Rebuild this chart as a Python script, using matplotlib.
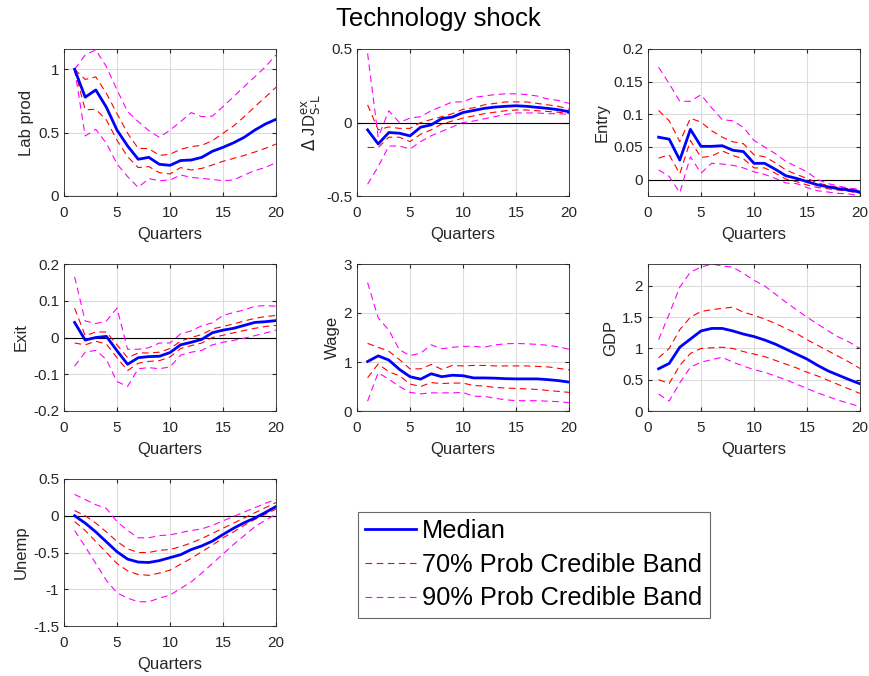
import numpy as np
import matplotlib
matplotlib.use('Agg')
import matplotlib.pyplot as plt
from matplotlib.ticker import FuncFormatter, FixedLocator

plt.rcParams['font.family'] = ['Liberation Sans', 'DejaVu Sans']
plt.rcParams['axes.unicode_minus'] = False

quarters = np.arange(1, 21)

# median, 70% band (upper/lower), 90% band (upper/lower)
labprod_med = [1.0, 0.78, 0.837, 0.70, 0.52, 0.395, 0.29, 0.305, 0.25, 0.242,
               0.28, 0.284, 0.305, 0.353, 0.384, 0.42, 0.463, 0.52, 0.568, 0.605]
labprod_70u = [1.0, 0.92, 0.94, 0.81, 0.65, 0.495, 0.376, 0.374, 0.32, 0.33,
               0.368, 0.39, 0.40, 0.437, 0.495, 0.553, 0.626, 0.705, 0.78, 0.858]
labprod_70l = [1.0, 0.68, 0.684, 0.60, 0.44, 0.31, 0.224, 0.232, 0.184, 0.174,
               0.224, 0.205, 0.218, 0.245, 0.274, 0.297, 0.32, 0.347, 0.376, 0.41]
labprod_90u = [1.0, 1.113, 1.153, 1.02, 0.837, 0.666, 0.587, 0.516, 0.463, 0.52,
               0.587, 0.658, 0.626, 0.63, 0.705, 0.784, 0.863, 0.94, 1.02, 1.113]
labprod_90l = [1.0, 0.474, 0.526, 0.416, 0.253, 0.153, 0.068, 0.137, 0.121, 0.126,
               0.166, 0.147, 0.139, 0.13, 0.121, 0.126, 0.166, 0.2, 0.226, 0.263]

jd_med = [-0.05, -0.146, -0.068, -0.073, -0.091, -0.032, -0.016, 0.027, 0.037, 0.068,
          0.082, 0.096, 0.105, 0.11, 0.114, 0.11, 0.103, 0.096, 0.087, 0.073]
jd_70u = [0.12, -0.05, -0.03, -0.04, -0.04, 0.0, 0.02, 0.04, 0.06, 0.09,
          0.10, 0.12, 0.13, 0.14, 0.14, 0.14, 0.13, 0.12, 0.11, 0.09]
jd_70l = [-0.17, -0.17, -0.10, -0.10, -0.13, -0.08, -0.05, -0.01, 0.01, 0.03,
          0.045, 0.06, 0.07, 0.08, 0.085, 0.085, 0.08, 0.075, 0.07, 0.06]
jd_90u = [0.47, -0.10, 0.08, 0.0, 0.03, 0.04, 0.08, 0.11, 0.14, 0.14,
          0.17, 0.18, 0.19, 0.195, 0.195, 0.19, 0.18, 0.16, 0.15, 0.13]
jd_90l = [-0.42, -0.30, -0.16, -0.16, -0.18, -0.13, -0.09, -0.06, -0.03, 0.0,
          0.01, 0.025, 0.04, 0.055, 0.065, 0.065, 0.065, 0.06, 0.06, 0.055]

entry_med = [0.065, 0.062, 0.030, 0.077, 0.051, 0.051, 0.052, 0.045, 0.043, 0.025,
             0.025, 0.016, 0.006, 0.002, -0.003, -0.008, -0.011, -0.014, -0.016, -0.019]
entry_70u = [0.106, 0.09, 0.058, 0.094, 0.088, 0.075, 0.065, 0.058, 0.055, 0.038,
             0.035, 0.026, 0.015, 0.008, 0.002, -0.005, -0.009, -0.012, -0.014, -0.017]
entry_70l = [0.033, 0.038, 0.009, 0.06, 0.034, 0.036, 0.044, 0.037, 0.032, 0.018,
             0.018, 0.01, 0.001, -0.003, -0.008, -0.012, -0.014, -0.016, -0.018, -0.021]
entry_90u = [0.172, 0.147, 0.12, 0.12, 0.13, 0.11, 0.092, 0.09, 0.08, 0.06,
             0.05, 0.04, 0.028, 0.02, 0.012, 0.0, -0.006, -0.01, -0.013, -0.015]
entry_90l = [0.015, 0.005, -0.02, 0.035, 0.01, 0.025, 0.024, 0.022, 0.018, 0.012,
             0.008, 0.002, -0.005, -0.006, -0.012, -0.017, -0.019, -0.021, -0.022, -0.025]

exit_med = [0.041, -0.007, 0.0, 0.003, -0.036, -0.073, -0.055, -0.052, -0.051, -0.041,
            -0.02, -0.013, -0.005, 0.013, 0.02, 0.025, 0.033, 0.041, 0.043, 0.046]
exit_70u = [0.08, 0.005, 0.015, 0.015, -0.02, -0.055, -0.042, -0.042, -0.04, -0.03,
            -0.01, 0.0, 0.008, 0.023, 0.03, 0.037, 0.045, 0.052, 0.057, 0.06]
exit_70l = [-0.015, -0.02, -0.01, -0.018, -0.055, -0.09, -0.07, -0.065, -0.063, -0.053,
            -0.03, -0.022, -0.015, 0.0, 0.006, 0.013, 0.019, 0.025, 0.03, 0.033]
exit_90u = [0.165, 0.045, 0.038, 0.045, 0.08, -0.032, -0.032, -0.028, -0.015, -0.015,
            0.01, 0.018, 0.032, 0.04, 0.06, 0.068, 0.075, 0.085, 0.087, 0.085]
exit_90l = [-0.078, -0.04, -0.035, -0.06, -0.12, -0.133, -0.085, -0.082, -0.085, -0.08,
            -0.048, -0.04, -0.035, -0.02, -0.013, -0.008, -0.002, 0.005, 0.012, 0.02]

wage_med = [1.01, 1.125, 1.04, 0.85, 0.70, 0.65, 0.76, 0.70, 0.73, 0.72,
            0.675, 0.675, 0.67, 0.66, 0.655, 0.655, 0.655, 0.64, 0.62, 0.59]
wage_70u = [1.38, 1.3, 1.22, 1.05, 0.86, 0.86, 0.95, 0.85, 0.93, 0.92,
            0.93, 0.93, 0.92, 0.92, 0.92, 0.92, 0.91, 0.9, 0.87, 0.84]
wage_70l = [0.68, 0.96, 0.8, 0.72, 0.55, 0.5, 0.58, 0.56, 0.57, 0.57,
            0.52, 0.51, 0.48, 0.47, 0.46, 0.45, 0.44, 0.42, 0.4, 0.38]
wage_90u = [2.62, 1.9, 1.65, 1.25, 1.13, 1.18, 1.35, 1.27, 1.3, 1.32,
            1.32, 1.3, 1.35, 1.37, 1.38, 1.37, 1.36, 1.34, 1.31, 1.26]
wage_90l = [0.2, 0.78, 0.65, 0.5, 0.38, 0.35, 0.37, 0.37, 0.37, 0.38,
            0.3, 0.3, 0.26, 0.23, 0.21, 0.21, 0.21, 0.2, 0.19, 0.17]

gdp_med = [0.675, 0.76, 1.02, 1.15, 1.28, 1.32, 1.32, 1.28, 1.23, 1.19,
           1.135, 1.07, 0.99, 0.91, 0.83, 0.73, 0.64, 0.57, 0.5, 0.435]
gdp_70u = [0.85, 1.0, 1.3, 1.5, 1.59, 1.62, 1.64, 1.66, 1.58, 1.53,
           1.47, 1.4, 1.32, 1.24, 1.14, 1.05, 0.96, 0.87, 0.78, 0.68]
gdp_70l = [0.5, 0.44, 0.73, 0.92, 1.0, 1.01, 1.02, 1.0, 0.95, 0.91,
           0.87, 0.81, 0.75, 0.69, 0.62, 0.56, 0.49, 0.42, 0.35, 0.28]
gdp_90u = [1.14, 1.55, 1.98, 2.22, 2.3, 2.35, 2.32, 2.3, 2.2, 2.09,
           2.0, 1.87, 1.74, 1.62, 1.5, 1.39, 1.28, 1.18, 1.1, 1.0]
gdp_90l = [0.27, 0.16, 0.45, 0.7, 0.78, 0.82, 0.86, 0.78, 0.72, 0.66,
           0.62, 0.56, 0.5, 0.43, 0.36, 0.29, 0.23, 0.17, 0.12, 0.07]

unemp_med = [0.0, -0.1, -0.22, -0.355, -0.49, -0.59, -0.63, -0.636, -0.61, -0.57,
             -0.53, -0.46, -0.41, -0.345, -0.255, -0.17, -0.095, -0.03, 0.045, 0.125]
unemp_70u = [0.07, 0.0, -0.1, -0.22, -0.35, -0.45, -0.5, -0.5, -0.47, -0.46,
             -0.42, -0.37, -0.31, -0.24, -0.17, -0.1, -0.03, 0.04, 0.11, 0.18]
unemp_70l = [-0.08, -0.2, -0.35, -0.5, -0.65, -0.75, -0.8, -0.81, -0.78, -0.74,
             -0.66, -0.58, -0.49, -0.4, -0.3, -0.22, -0.13, -0.05, 0.02, 0.09]
unemp_90u = [0.29, 0.22, 0.15, 0.1, -0.08, -0.2, -0.3, -0.3, -0.27, -0.26,
             -0.23, -0.2, -0.18, -0.13, -0.07, -0.01, 0.05, 0.11, 0.17, 0.22]
unemp_90l = [-0.2, -0.42, -0.65, -0.88, -1.05, -1.12, -1.17, -1.17, -1.12, -1.08,
             -0.99, -0.9, -0.78, -0.65, -0.52, -0.39, -0.27, -0.15, -0.06, 0.02]

panels = [
    ('Lab prod', labprod_med, labprod_70u, labprod_70l, labprod_90u, labprod_90l,
     (0, 1.16), [0, 0.5, 1]),
    (r'$\Delta$ JD$^{\rm ex}_{\rm S\text{-}L}$', jd_med, jd_70u, jd_70l, jd_90u, jd_90l,
     (-0.5, 0.5), [-0.5, 0, 0.5]),
    ('Entry', entry_med, entry_70u, entry_70l, entry_90u, entry_90l,
     (-0.025, 0.2), [0, 0.05, 0.1, 0.15, 0.2]),
    ('Exit', exit_med, exit_70u, exit_70l, exit_90u, exit_90l,
     (-0.2, 0.2), [-0.2, -0.1, 0, 0.1, 0.2]),
    ('Wage', wage_med, wage_70u, wage_70l, wage_90u, wage_90l,
     (0, 3), [0, 1, 2, 3]),
    ('GDP', gdp_med, gdp_70u, gdp_70l, gdp_90u, gdp_90l,
     (0, 2.35), [0, 0.5, 1, 1.5, 2]),
    ('Unemp', unemp_med, unemp_70u, unemp_70l, unemp_90u, unemp_90l,
     (-1.5, 0.5), [-1.5, -1, -0.5, 0, 0.5]),
]

W, H = 870, 676
fig = plt.figure(figsize=(W / 100, H / 100), dpi=100)

col_left = [64, 357, 648]
row_top = [49, 264, 479]
ax_w, ax_h = 212, 147

axis_col = '#262626'
fmt = FuncFormatter(lambda v, p: '%g' % v)

for i, (name, med, u70, l70, u90, l90, ylim, yt) in enumerate(panels):
    r, c = divmod(i, 3)
    ax = fig.add_axes([col_left[c] / W, 1 - (row_top[r] + ax_h) / H, ax_w / W, ax_h / H])
    ax.axhline(0, color='black', lw=0.8, zorder=1)
    h90, = ax.plot(quarters, u90, '--', color='magenta', lw=0.8, dashes=(6, 4))
    ax.plot(quarters, l90, '--', color='magenta', lw=0.8, dashes=(6, 4))
    h70, = ax.plot(quarters, u70, '--', color='red', lw=0.8, dashes=(6, 4))
    ax.plot(quarters, l70, '--', color='red', lw=0.8, dashes=(6, 4))
    hmed, = ax.plot(quarters, med, '-', color='blue', lw=2)
    ax.set_xlim(0, 20)
    ax.set_ylim(*ylim)
    ax.xaxis.set_major_locator(FixedLocator([0, 5, 10, 15, 20]))
    ax.yaxis.set_major_locator(FixedLocator(yt))
    ax.xaxis.set_major_formatter(fmt)
    ax.yaxis.set_major_formatter(fmt)
    ax.grid(True, color='#dcdcdc', lw=0.8)
    ax.set_axisbelow(True)
    ax.tick_params(direction='in', labelsize=11, colors=axis_col, length=3,
                   top=True, right=True)
    ax.tick_params(axis='x', pad=7.5)
    for s in ax.spines.values():
        s.set_color(axis_col)
        s.set_linewidth(0.6)
    ax.set_xlabel('Quarters', fontsize=12, color=axis_col, labelpad=4.5)
    ax.set_ylabel(name, fontsize=12, color=axis_col, labelpad=3)

fig.text(438 / W, 1 - 19 / H, 'Technology shock', ha='center', va='center', fontsize=18.5)

leg = fig.legend([hmed, h70, h90],
                 ['Median', '70% Prob Credible Band', '90% Prob Credible Band'],
                 loc='upper left', bbox_to_anchor=(358 / W, 1 - 512 / H),
                 fontsize=18.3, frameon=True, fancybox=False, handlelength=2.0,
                 borderpad=0.28, labelspacing=0.38, handletextpad=0.25,
                 borderaxespad=0)
leg.get_frame().set_edgecolor('#444444')
leg.get_frame().set_linewidth(0.8)

fig.savefig('out.png', dpi=100)
